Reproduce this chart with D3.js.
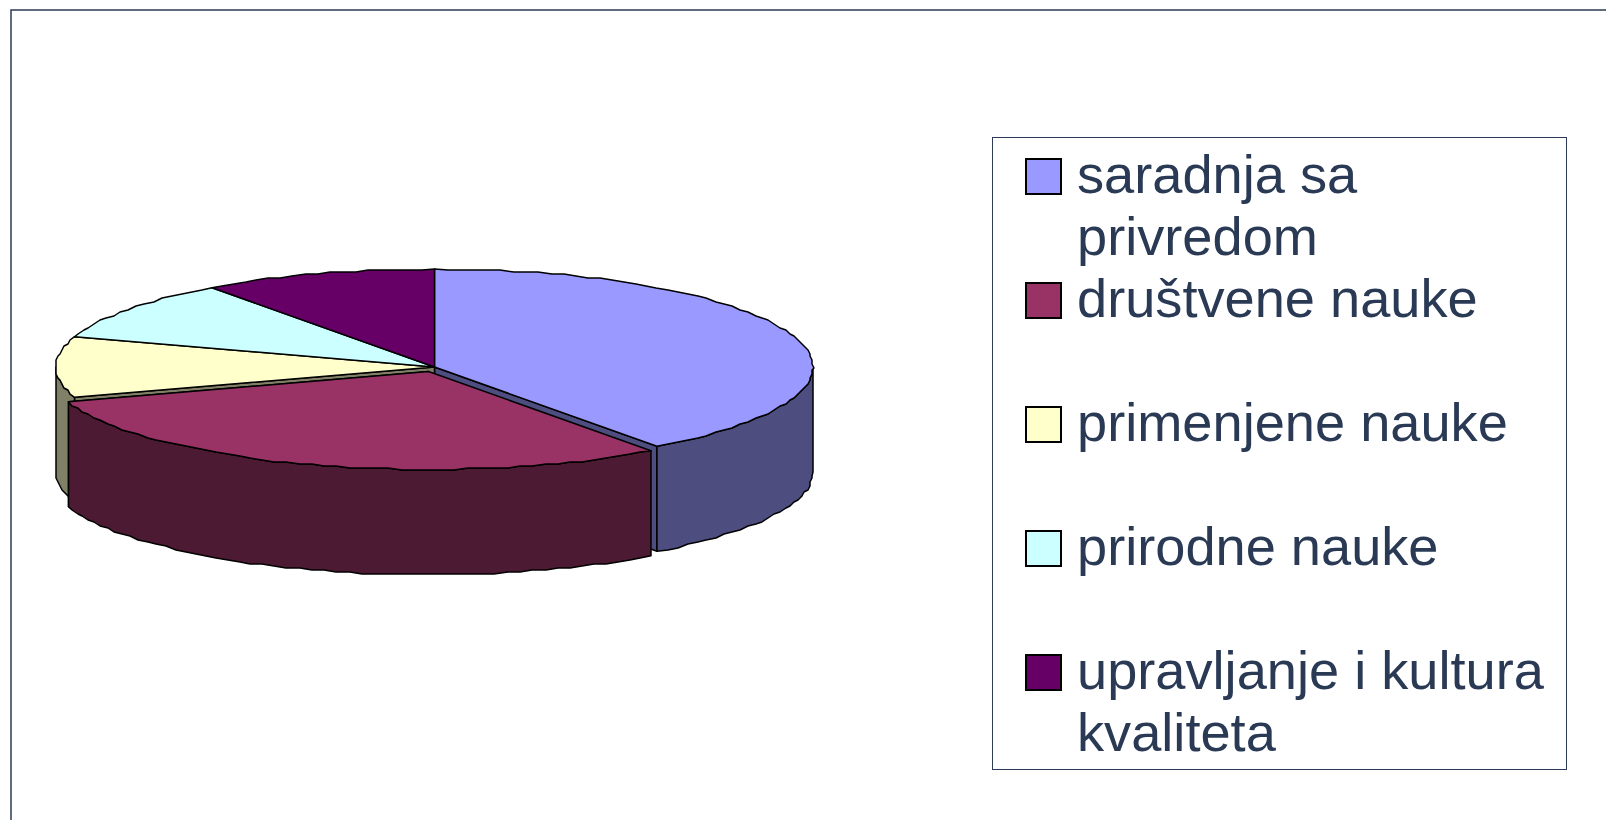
<!DOCTYPE html>
<html>
<head>
<meta charset="utf-8">
<script src="https://cdn.jsdelivr.net/npm/d3@7"></script>
<style>
  html, body { margin: 0; padding: 0; background: #fff; overflow: hidden; }
  text { font-family: "Liberation Sans", Arial, sans-serif; }
</style>
</head>
<body>
<script>
// values (shares of the pie, clockwise from 12 o'clock)
const categories = ["saradnja sa privredom", "društvene nauke", "primenjene nauke", "prirodne nauke", "upravljanje i kultura kvaliteta"];
const values = [40, 30, 10, 10, 10];
const topColors = ["#9999ff", "#993366", "#ffffcc", "#ccffff", "#660066"];
const wallColors = ["#4d4d80", "#4d1a33", "#808066", "#668080", "#330033"];
const legendLines = [["saradnja sa", "privredom"], ["društvene nauke"], ["primenjene nauke"], ["prirodne nauke"], ["upravljanje i kultura", "kvaliteta"]];

const width = 1606, height = 820;
const depth = 105;
const frameColor = "#2c3b57";
const inkColor = "#2a3a55";

const svg = d3.select("body").append("svg")
  .attr("width", width)
  .attr("height", height);

// slide frame, only the top and left edges show
svg.append("path")
  .attr("d", d3.line()([[11, height], [11, 10], [width, 10]]))
  .attr("fill", "none")
  .attr("stroke", frameColor)
  .attr("stroke-width", 1.5);

// unit circle -> flattened ellipse on screen
const X = d3.scaleLinear().domain([-1, 1]).range([56, 813]);
const Y = d3.scaleLinear().domain([-1, 1]).range([269, 465]);
const line = d3.line();

const slices = d3.pie().sort(null)(values);
const explode = [0, 0];
const exploded = [-6, 4.5]; // the maroon slice is pulled out a bit

const pt = (a, off, dy) => [X(Math.sin(a)) + off[0], Y(-Math.cos(a)) + off[1] + dy];
const snap = p => [Math.round(p[0] / 2) * 2, Math.round(p[1] / 2) * 2];

// rim as a coarse polyline, the original has that stepped edge
function rim(a0, a1, off, dy) {
  const n = Math.max(1, Math.round((a1 - a0) / (Math.PI / 90)));
  return d3.range(n + 1).map(i => {
    const p = pt(a0 + (a1 - a0) * i / n, off, dy);
    return (i === 0 || i === n) ? p : snap(p);
  });
}

const centre = (off, dy) => [X(0) + off[0], Y(0) + off[1] + dy];
const pie = svg.append("g").attr("class", "pie")
  .attr("stroke", "#000")
  .attr("stroke-width", 1.5)
  .attr("stroke-linejoin", "round");

function drawWall(d, off) {
  // only the front half of the rim can be seen
  const a0 = Math.max(d.startAngle, Math.PI / 2);
  const a1 = Math.min(d.endAngle, Math.PI * 1.5);
  if (a0 >= a1) return;
  const pts = rim(a0, a1, off, 0).concat(rim(a0, a1, off, depth).reverse());
  pie.append("path").attr("d", line(pts) + "Z").attr("fill", wallColors[d.index]);
}

function drawCut(d, angle, off) {
  const pts = [centre(off, 0), pt(angle, off, 0), pt(angle, off, depth), centre(off, depth)];
  pie.append("path").attr("d", line(pts) + "Z").attr("fill", wallColors[d.index]);
}

function drawTop(d, off) {
  const pts = [centre(off, 0)].concat(rim(d.startAngle, d.endAngle, off, 0));
  pie.append("path").attr("d", line(pts) + "Z").attr("fill", topColors[d.index]);
}

// back to front: the cut faces show in the gap left by the maroon slice
drawCut(slices[0], slices[0].endAngle, explode);
drawCut(slices[2], slices[2].startAngle, explode);
drawWall(slices[0], explode);
drawWall(slices[2], explode);
[0, 2, 3, 4].forEach(i => drawTop(slices[i], explode));
drawCut(slices[1], slices[1].endAngle, exploded);
drawWall(slices[1], exploded);
drawTop(slices[1], exploded);

// legend
const legend = svg.append("g").attr("class", "legend");
legend.append("rect")
  .attr("x", 992.5).attr("y", 137.5)
  .attr("width", 574).attr("height", 632)
  .attr("fill", "#fff")
  .attr("stroke", frameColor)
  .attr("stroke-width", 1);

const rowY = d3.scalePoint().domain(categories).range([176, 672]);

categories.forEach((c, i) => {
  const y = rowY(c);
  legend.append("rect")
    .attr("x", 1026).attr("y", y - 17)
    .attr("width", 35).attr("height", 35)
    .attr("fill", topColors[i])
    .attr("stroke", "#000")
    .attr("stroke-width", 2);
  legendLines[i].forEach((t, j) => {
    legend.append("text")
      .attr("x", 1077)
      .attr("y", y + 17 + j * 62)
      .attr("font-size", 54.2)
      .attr("fill", inkColor)
      .text(t);
  });
});
</script>
</body>
</html>
